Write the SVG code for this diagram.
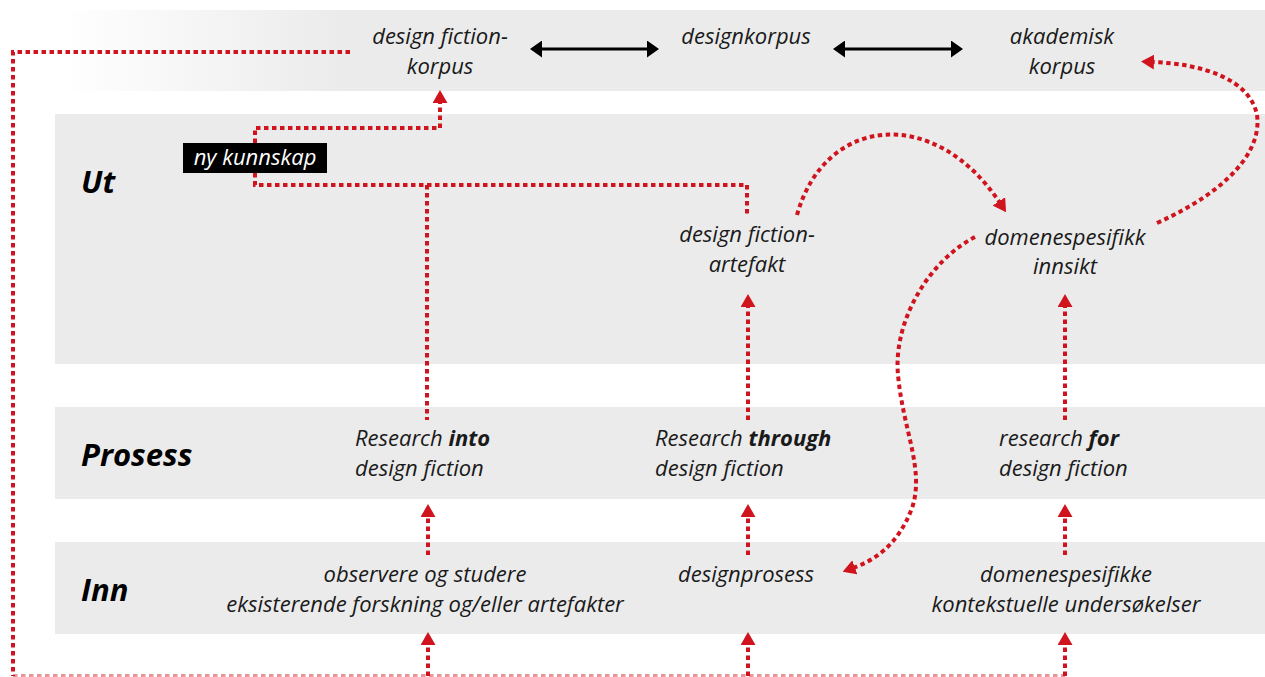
<svg xmlns="http://www.w3.org/2000/svg" width="1265" height="677" viewBox="0 0 1265 677">
<defs>
<linearGradient id="topgrad" x1="0" y1="0" x2="1265" y2="0" gradientUnits="userSpaceOnUse">
<stop offset="0.05" stop-color="#ffffff"/>
<stop offset="0.27" stop-color="#ebebeb"/>
<stop offset="1" stop-color="#ebebeb"/>
</linearGradient>
<marker id="ra" viewBox="0 0 13 15" refX="2" refY="7.5" markerWidth="13" markerHeight="15" markerUnits="userSpaceOnUse" orient="auto">
<path d="M0,0 L13,7.5 L0,15 z" fill="#d0141e"/>
</marker>
<marker id="ba" viewBox="0 0 12 17" refX="2" refY="8.5" markerWidth="12" markerHeight="17" markerUnits="userSpaceOnUse" orient="auto-start-reverse">
<path d="M0,0 L12,8.5 L0,17 z" fill="#000"/>
</marker>
<style>
.band{fill:#ebebeb}
.t{font-family:"Open Sans",Lato,"Liberation Sans",sans-serif;font-style:italic;font-size:22px;fill:#1a1a1a}
.c{text-anchor:middle}
.h{font-family:"Open Sans",Lato,"Liberation Sans",sans-serif;font-style:italic;font-weight:bold;font-size:31px;fill:#000}
.d{fill:none;stroke:#d0141e;stroke-width:4;stroke-dasharray:4.5 3.5}
.dm{marker-end:url(#ra)}
.bk{fill:none;stroke:#000;stroke-width:3;marker-start:url(#ba);marker-end:url(#ba)}
</style>
</defs>
<g id="bands">
<rect x="0" y="10" width="1265" height="81" fill="url(#topgrad)"/>
<rect class="band" x="55" y="114" width="1210" height="250"/>
<rect class="band" x="55" y="407" width="1210" height="92"/>
<rect class="band" x="55" y="542" width="1210" height="92"/>
</g>
<g id="row-labels">
<text class="h" x="81" y="193">Ut</text>
<text class="h" x="81" y="466">Prosess</text>
<text class="h" x="81" y="601">Inn</text>
</g>
<g id="connectors">
<path class="d" d="M350,52 H13 V676"/>
<path class="d" d="M13,676 H1065" stroke-width="2" opacity="0.45"/>
<path class="d dm" d="M255,143 V128 H440 V101"/>
<path class="d" d="M255,173 V185 H747 V217"/>
<path class="d" d="M427,185 V420"/>
<path class="d dm" d="M748,420 V305"/>
<path class="d dm" d="M1065,420 V305"/>
<path class="d dm" d="M428,555 V515"/>
<path class="d dm" d="M748,555 V515"/>
<path class="d dm" d="M1065,555 V515"/>
<path class="d dm" d="M428,676 V643"/>
<path class="d dm" d="M748,676 V643"/>
<path class="d dm" d="M1065,676 V643"/>
<path class="d dm" d="M797,215 C 825,115 935,105 1000,203"/>
<path class="d dm" d="M975,237 C 930,260 893,320 898,375 C 903,430 925,470 912,508 C 898,545 875,560 853,568"/>
<path class="d dm" d="M1157,223 C 1230,190 1262,150 1257,115 C 1250,80 1205,64 1152,62"/>
<path class="bk" d="M540,49 H649"/>
<path class="bk" d="M843,49 H953"/>
</g>
<g id="n-dfkorpus"><text class="t c" x="440" y="44">design fiction-</text><text class="t c" x="440" y="74">korpus</text></g>
<g id="n-designkorpus"><text class="t c" x="746" y="44">designkorpus</text></g>
<g id="n-akademisk"><text class="t c" x="1062" y="44">akademisk</text><text class="t c" x="1062" y="74">korpus</text></g>
<g id="n-nykunnskap"><rect x="183" y="143" width="144" height="30" fill="#000"/><text class="t c" x="255" y="165" style="fill:#fff">ny kunnskap</text></g>
<g id="n-artefakt"><text class="t c" x="747" y="242">design fiction-</text><text class="t c" x="747" y="272">artefakt</text></g>
<g id="n-innsikt"><text class="t c" x="1065" y="245">domenespesifikk</text><text class="t c" x="1065" y="274">innsikt</text></g>
<g id="n-into"><text class="t" x="355" y="446">Research <tspan font-weight="bold">into</tspan></text><text class="t" x="355" y="476">design fiction</text></g>
<g id="n-through"><text class="t" x="655" y="446">Research <tspan font-weight="bold">through</tspan></text><text class="t" x="655" y="476">design fiction</text></g>
<g id="n-for"><text class="t" x="999" y="446">research <tspan font-weight="bold">for</tspan></text><text class="t" x="999" y="476">design fiction</text></g>
<g id="n-observere"><text class="t c" x="425" y="582">observere og studere</text><text class="t c" x="425" y="612">eksisterende forskning og/eller artefakter</text></g>
<g id="n-designprosess"><text class="t c" x="746" y="582">designprosess</text></g>
<g id="n-domene"><text class="t c" x="1066" y="582">domenespesifikke</text><text class="t c" x="1066" y="612">kontekstuelle undersøkelser</text></g>
</svg>
